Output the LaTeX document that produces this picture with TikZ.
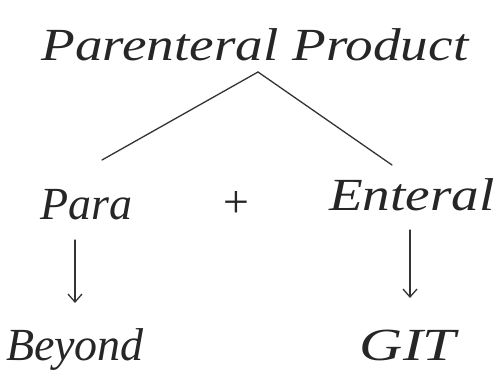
\documentclass[tikz,border=0pt]{standalone}
\usetikzlibrary{arrows.meta}
\usepackage{graphicx}
\usepackage{fontspec}
\setmainfont{Liberation Serif}
\begin{document}
\begin{tikzpicture}[x=1pt,y=-1pt,
  hand/.style={font=\itshape\fontsize{46}{50}\selectfont, inner sep=0pt, text=black!85},
  ink/.style={draw=black!80, line width=1.3pt, line cap=round},
  arr/.style={ink,-{Straight Barb[length=8pt,width=14pt]}}]
\useasboundingbox (0,0) rectangle (500,382);
\node[hand] (top) at (255,45) {\scalebox{1.2}[1]{Parenteral Product}};
\coordinate (apex) at (258,72);
\coordinate (lend) at (102,160);
\coordinate (rend) at (392,165);
\node[hand] (para) at (86,205) {Para};
\node[hand] (plus) at (236,205) {+};
\node[hand] (ent) at (412,195) {\scalebox{1.2}[1]{Enteral}};
\node[hand] (beyond) at (75,350) {Beyond};
\node[hand] (git) at (408,345) {\scalebox{1.3}[1]{GIT}};
\coordinate (a1) at (75,240);
\coordinate (b1) at (75,303);
\coordinate (a2) at (410,230);
\coordinate (b2) at (410,298);
\draw[ink] (apex) -- (lend);
\draw[ink] (apex) -- (rend);
\draw[arr] (a1) -- (b1);
\draw[arr] (a2) -- (b2);
\end{tikzpicture}
\end{document}
